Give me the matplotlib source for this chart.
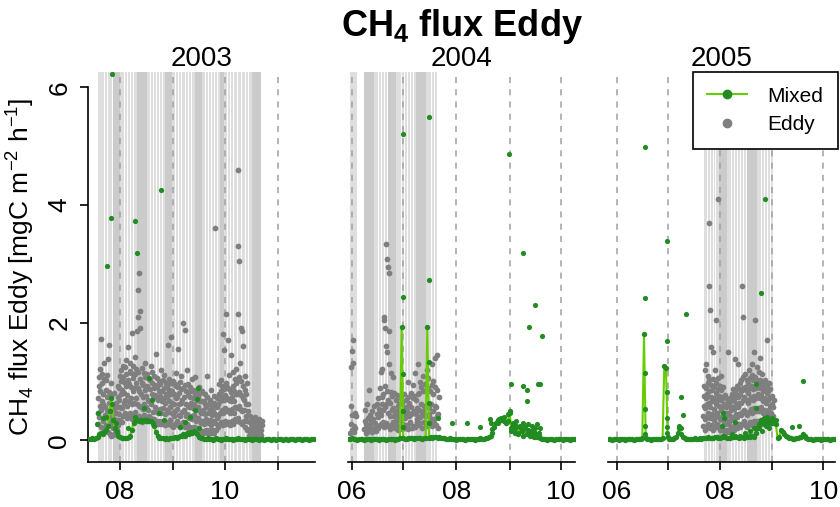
import numpy as np
import pandas as pd
import matplotlib
matplotlib.use('Agg')
import matplotlib.pyplot as plt
from matplotlib.lines import Line2D

plt.rcParams['font.family'] = ['Liberation Sans', 'DejaVu Sans']
plt.rcParams['mathtext.fontset'] = 'custom'
plt.rcParams['mathtext.rm'] = 'Liberation Sans'
plt.rcParams['mathtext.bf'] = 'Liberation Sans:bold'

years = [2003, 2004, 2005]
# x limits in day of year
xlims = [(194.4, 326.6), (150.7, 283.2), (146.7, 281.0)]
ylim = (-0.37, 6.26)

# gap-filled periods (grey shading), day of year
light03 = [(200.2, 295.1)]
dark03 = [(208.9, 213.0), (222.9, 228.7), (239.2, 243.3), (256.7, 260.8), (271.2, 273.6), (289.9, 295.1)]
stripes03 = [203.7, 205.4, 208.2, 215.3, 217.1, 218.8, 220.6, 230.5, 232.2, 234.0, 235.7, 237.5,
             245.0, 246.8, 248.5, 250.9, 252.6, 254.4, 262.5, 264.3, 266.0, 267.7, 269.5,
             275.3, 277.1, 278.8, 281.1, 283.5, 285.8, 287.5]
light04 = [(151.8, 155.9), (165.9, 202.6)]
dark04 = [(160.0, 165.9), (174.0, 178.7), (190.4, 196.2)]
stripes04 = [168.2, 169.9, 171.7, 173.4, 181.6, 183.4, 185.1, 186.9, 188.6, 199.1, 200.8]
light05 = [(203.3, 244.1)]
dark05 = [(212.5, 217.2), (229.2, 235.0)]
stripes05 = [205.1, 206.8, 208.6, 210.3, 219.6, 221.4, 223.1, 224.9, 226.6, 228.4,
             237.1, 238.9, 240.6, 242.4]

# Eddy flux, values per day (first day given)
eddy03_start = 200
eddy03_vals = [
    [0.28, 0.47, 0.71, 0.93, 1.08], [0.39, 0.58, 0.83, 1.21, 1.72], [0.22, 0.51, 0.66, 0.97, 1.12],
    [0.33, 0.62, 0.79, 1.04, 1.31], [0.19, 0.43, 0.57, 0.86, 1.02], [0.26, 0.49, 0.74, 1.11, 1.38],
    [0.14, 0.37, 0.63, 0.82, 1.62], [0.11, 0.29, 0.52, 0.76, 0.97], [0.07, 0.24, 0.41, 0.58],
    [0.09, 0.21, 0.36, 0.53, 0.81], [0.13, 0.31, 0.47, 0.64], [0.17, 0.34, 0.56, 0.73, 0.92],
    [0.26, 0.45, 0.68, 0.88, 1.09], [0.34, 0.57, 0.78, 1.01, 1.19], [0.31, 0.54, 0.86, 1.07, 1.27],
    [0.42, 0.63, 0.81, 0.99, 1.24], [0.46, 0.69, 0.92, 1.13, 1.36], [0.38, 0.59, 0.77, 1.03, 1.58],
    [0.41, 0.67, 0.96, 1.18, 1.31], [0.47, 0.72, 0.91, 1.14, 1.82], [0.36, 0.61, 0.84, 1.06, 1.26],
    [0.43, 0.64, 0.89, 1.12, 1.41], [0.48, 0.71, 0.97, 1.21, 1.85],
    [0.37, 0.62, 0.88, 1.16, 2.1, 2.55, 2.85], [0.42, 0.59, 0.83, 1.04, 1.9, 2.2],
    [0.36, 0.57, 0.79, 0.98, 1.22], [0.31, 0.53, 0.74, 0.94, 1.14], [0.43, 0.62, 0.85, 1.07, 1.31],
    [0.37, 0.56, 0.76, 0.93, 1.12], [0.32, 0.51, 0.69, 0.88, 1.04], [0.41, 0.66, 0.87, 1.03, 1.26],
    [0.38, 0.61, 0.79, 0.97, 1.16], [0.27, 0.48, 0.71, 0.89, 1.09], [0.36, 0.57, 0.77, 0.94, 1.46],
    [0.33, 0.52, 0.73, 0.91, 1.06], [0.27, 0.46, 0.68, 0.84, 1.01], [0.32, 0.53, 0.76, 0.96, 1.19],
    [0.28, 0.47, 0.66, 0.83, 1.02], [0.33, 0.54, 0.72, 0.89, 1.11], [0.26, 0.44, 0.63, 0.79, 0.97],
    [0.31, 0.52, 0.74, 0.93, 1.62], [0.27, 0.48, 0.67, 0.86, 1.04], [0.34, 0.56, 0.79, 0.98, 1.75],
    [0.26, 0.46, 0.64, 0.83, 1.01], [0.22, 0.41, 0.61, 0.78, 0.96], [0.28, 0.49, 0.71, 0.92, 1.14],
    [0.32, 0.53, 0.74, 0.91, 1.55], [0.26, 0.43, 0.62, 0.81, 0.99], [0.23, 0.42, 0.64, 0.87, 1.09],
    [0.27, 0.48, 0.69, 0.88, 2.0], [0.31, 0.52, 0.73, 0.94, 1.87], [0.22, 0.41, 0.62, 0.83, 1.19],
    [0.27, 0.44, 0.59, 0.77, 0.96], [0.18, 0.37, 0.56, 0.74, 0.91], [0.23, 0.42, 0.64, 0.83, 1.04],
    [0.17, 0.36, 0.54, 0.71, 0.86], [0.22, 0.43, 0.61, 0.79, 1.08], [0.16, 0.33, 0.52, 0.69, 0.86],
    [0.21, 0.38, 0.57, 0.74, 0.91], [0.17, 0.34, 0.49, 0.66, 0.81], [0.13, 0.29, 0.47, 0.66, 0.84],
    [0.16, 0.33, 0.51, 0.67], [0.12, 0.28, 0.44, 0.61, 0.79], [0.17, 0.36, 0.56, 0.73, 1.1],
    [0.13, 0.29, 0.47, 0.62], [0.18, 0.34, 0.52, 0.68, 0.86], [0.12, 0.26, 0.43, 0.57],
    [0.17, 0.33, 0.49, 0.63, 0.76], [0.13, 0.29, 0.44, 0.58], [0.18, 0.37, 0.56, 0.72],
    [0.22, 0.41, 0.61, 0.79, 0.96], [0.27, 0.46, 0.66, 0.84, 1.02], [0.31, 0.52, 0.73, 0.92, 1.8],
    [0.26, 0.47, 0.69, 0.87, 1.53], [0.32, 0.54, 0.77, 0.97, 2.15], [0.27, 0.49, 0.72, 0.91, 1.7],
    [0.31, 0.51, 0.69, 0.87, 1.11], [0.26, 0.46, 0.66, 0.82, 1.45], [0.33, 0.53, 0.74, 0.93, 1.16],
    [0.27, 0.47, 0.67, 0.84, 1.04], [0.36, 0.56, 0.78, 0.97, 1.21], [0.32, 0.54, 0.79, 1.02, 2.15],
    [0.37, 0.58, 0.82, 1.07, 1.31], [0.31, 0.53, 0.77, 1.01, 1.9, 1.85], [0.27, 0.49, 0.71, 0.92, 1.6],
    [0.32, 0.51, 0.69, 0.86, 1.09], [0.22, 0.41, 0.61, 0.79, 0.98], [0.17, 0.33, 0.49, 0.62],
    [0.08, 0.19, 0.31, 0.42], [0.11, 0.18, 0.27, 0.36], [0.07, 0.16, 0.24, 0.33],
    [0.09, 0.19, 0.29, 0.39], [0.06, 0.14, 0.23, 0.31], [0.09, 0.17, 0.27, 0.36],
    [0.07, 0.15, 0.22, 0.31], [0.09, 0.18, 0.26, 0.33],
]
eddy03_out_day = [281.5, 281.6, 282.2, 268.3]
eddy03_out_val = [4.6, 3.3, 3.05, 3.6]

eddy04_start = 152
eddy04_vals = [
    [0.12, 0.27, 0.58, 1.25, 1.52], [0.18, 0.43, 1.31, 1.71], [0.14, 0.24, 0.47], [0.21, 0.41],
    [], [], [], [],
    [0.19, 0.33, 0.52], [0.13, 0.28, 0.61], [0.22, 0.38, 0.85], [0.16, 0.24, 0.43],
    [0.21, 0.31, 0.49], [0.14, 0.36, 0.58], [0.19, 0.29], [0.16, 0.26, 0.44, 0.62],
    [0.21, 0.39, 0.71, 0.53], [0.24, 0.48, 0.88, 1.16], [0.27, 0.43, 0.74, 1.21, 0.61],
    [0.31, 0.52, 0.79, 2.1, 2.05], [0.23, 0.56, 0.92, 1.9, 1.6, 3.33],
    [0.29, 0.62, 0.84, 1.5, 3.08, 2.95], [0.24, 0.46, 0.69, 1.85, 2.85, 1.3],
    [0.19, 0.41, 0.63, 1.14, 0.82], [0.26, 0.51, 0.76, 1.07], [0.31, 0.54, 0.81, 0.42],
    [0.21, 0.44, 0.68, 0.33], [0.26, 0.49, 0.77, 0.58], [0.18, 0.39, 0.62, 0.47],
    [0.24, 0.46, 0.71, 0.34], [0.19, 0.38, 0.64, 0.52], [0.27, 0.51, 0.79, 0.37],
    [0.21, 0.43, 0.69, 0.56], [0.26, 0.49, 0.74, 0.99], [0.19, 0.41, 0.64, 0.31],
    [0.29, 0.56, 0.81, 0.44], [0.21, 0.46, 0.71, 0.94], [0.24, 0.49, 0.76, 1.15],
    [0.22, 0.44, 0.68, 0.36], [0.31, 0.54, 0.79, 1.3], [0.26, 0.51, 0.81, 0.99, 0.39],
    [0.29, 0.61, 0.91, 0.46], [0.21, 0.49, 0.84, 1.1], [0.31, 0.59, 0.96, 0.42],
    [0.24, 0.56, 0.86, 1.2], [0.29, 0.61, 0.89, 1.05, 0.44], [0.26, 0.54, 0.84, 0.38],
    [0.31, 0.62, 0.94, 1.3], [0.24, 0.49, 0.79, 1.01, 0.36], [0.29, 0.59, 0.91, 1.4],
    [0.26, 0.56, 0.86, 1.45, 0.42], [0.21, 0.44, 0.74],
]

eddy05_start = 203
eddy05_vals = [
    [0.24, 0.41, 0.58, 0.76, 0.93, 1.2], [0.18, 0.36, 0.54, 0.71, 0.88, 1.3],
    [0.22, 0.39, 0.61, 0.79, 0.97, 1.1], [0.27, 0.46, 0.64, 0.83, 1.02, 2.62, 2.22],
    [0.21, 0.38, 0.57, 0.74, 0.94, 1.59], [0.26, 0.44, 0.66, 0.86, 1.04, 1.5],
    [0.17, 0.34, 0.53, 0.72, 0.91, 1.2], [0.23, 0.42, 0.61, 0.81, 0.97, 2.04],
    [0.28, 0.47, 0.68, 0.87, 1.06], [0.22, 0.39, 0.58, 0.76, 0.92],
    [0.18, 0.36, 0.52, 0.69, 0.86, 1.1], [0.21, 0.38, 0.56, 0.73, 0.91],
    [0.17, 0.31, 0.47, 0.62, 0.77], [0.13, 0.27, 0.42, 0.57, 0.71],
    [0.18, 0.32, 0.46, 0.61, 0.68, 1.5], [0.14, 0.28, 0.43, 0.59, 0.72],
    [0.19, 0.35, 0.52, 0.66, 0.78], [0.22, 0.39, 0.56, 0.72, 0.87],
    [0.18, 0.36, 0.53, 0.69, 0.83, 1.38], [0.26, 0.44, 0.61, 0.77, 0.92],
    [0.21, 0.39, 0.57, 0.73, 0.88, 1.3], [0.27, 0.45, 0.63, 0.79, 0.97],
    [0.23, 0.43, 0.64, 0.84, 1.02, 2.62], [0.28, 0.48, 0.69, 0.88, 1.07, 2.1],
    [0.32, 0.52, 0.73, 0.91, 1.12], [0.26, 0.47, 0.68, 0.86, 1.03],
    [0.22, 0.43, 0.64, 0.81, 0.97, 1.2], [0.27, 0.48, 0.69, 0.89, 1.06],
    [0.31, 0.53, 0.74, 0.92, 1.11, 1.3], [0.26, 0.47, 0.69, 0.87, 1.02, 1.5],
    [0.32, 0.54, 0.76, 0.93, 1.08, 2.04], [0.27, 0.49, 0.71, 0.89, 1.03, 1.25],
    [0.33, 0.55, 0.78, 0.97, 1.16], [0.28, 0.49, 0.71, 0.88, 1.02, 1.4],
    [0.34, 0.56, 0.77, 0.94, 1.12], [0.27, 0.46, 0.66, 0.84, 0.98],
    [0.32, 0.51, 0.71, 0.88, 1.03], [0.28, 0.46, 0.64, 0.81, 0.94, 1.7],
    [0.33, 0.51, 0.68, 0.84, 0.97], [0.28, 0.43, 0.59, 0.74, 0.87],
    [0.33, 0.47, 0.62, 0.76], [0.29, 0.42, 0.56, 0.69],
]
eddy05_out_day = [206.2, 212.0]
eddy05_out_val = [3.69, 4.1]

# Mixed flux, daily line (first day given)
mixed03_start = 195
mixed03_vals = [
    0.02, 0.02, 0.03, 0.02, 0.04, 0.06, 0.10, 0.12, 0.10, 0.14,
    0.18, 0.25, 0.50, 0.72, 0.35, 0.20, 0.14, 0.08, 0.05, 0.03,
    0.03, 0.04, 0.03, 0.05, 0.08, 0.18, 0.30, 0.33, 0.34, 0.33,
    0.34, 0.33, 0.35, 0.33, 0.34, 0.32, 0.33, 0.30, 0.25, 0.14,
    0.07, 0.04, 0.03, 0.03, 0.02, 0.03, 0.02, 0.03, 0.04, 0.03,
    0.05, 0.04, 0.06, 0.08, 0.07, 0.10, 0.08, 0.12, 0.10, 0.14,
    0.12, 0.16, 0.14, 0.10, 0.06, 0.04, 0.03, 0.02, 0.02, 0.03,
    0.02, 0.02, 0.01, 0.02, 0.03, 0.02, 0.02, 0.01, 0.02, 0.02,
    0.03, 0.02, 0.02, 0.02, 0.01, 0.02, 0.02, 0.03, 0.02, 0.02,
    0.02, 0.01, 0.02, 0.02, 0.02, 0.01, 0.02, 0.02, 0.02, 0.01,
    0.02, 0.02, 0.01, 0.02, 0.02, 0.02, 0.01, 0.02, 0.02, 0.01,
    0.02, 0.02, 0.02, 0.01, 0.02, 0.02, 0.01, 0.02, 0.02, 0.02,
    0.01, 0.02, 0.02, 0.02, 0.01, 0.02, 0.02, 0.02, 0.01, 0.02,
    0.02, 0.02,
]
mixed04_start = 151
mixed04_vals = [
    0.02, 0.02, 0.03, 0.02, 0.02, 0.01, 0.02, 0.02, 0.02, 0.01,
    0.02, 0.02, 0.02, 0.01, 0.02, 0.02, 0.02, 0.02, 0.01, 0.02,
    0.02, 0.02, 0.01, 0.02, 0.02, 0.02, 0.02, 0.01, 0.02, 0.02,
    0.03, 1.92, 0.03, 0.02, 0.02, 0.03, 0.04, 0.03, 0.02, 0.03,
    0.04, 0.03, 0.03, 0.02, 0.03, 0.04, 1.92, 0.04, 0.05, 0.04,
    0.06, 0.05, 0.04, 0.05, 0.04, 0.03, 0.03, 0.02, 0.02, 0.03,
    0.02, 0.02, 0.02, 0.01, 0.02, 0.02, 0.02, 0.02, 0.01, 0.02,
    0.02, 0.02, 0.02, 0.02, 0.01, 0.02, 0.02, 0.03, 0.02, 0.02,
    0.03, 0.03, 0.05, 0.08, 0.12, 0.22, 0.30, 0.35, 0.36, 0.34,
    0.35, 0.33, 0.30, 0.32, 0.50, 0.20, 0.28, 0.12, 0.25, 0.10,
    0.22, 0.15, 0.08, 0.20, 0.10, 0.18, 0.08, 0.15, 0.06, 0.12,
    0.05, 0.08, 0.03, 0.02, 0.02, 0.02, 0.01, 0.02, 0.02, 0.02,
    0.01, 0.02, 0.02, 0.02, 0.02, 0.01, 0.02, 0.02, 0.02, 0.01,
    0.02, 0.02, 0.02,
]
mixed05_start = 147
mixed05_vals = [
    0.02, 0.02, 0.01, 0.02, 0.02, 0.02, 0.01, 0.02, 0.02, 0.02,
    0.01, 0.02, 0.02, 0.02, 0.02, 0.01, 0.02, 0.02, 0.02, 0.02,
    0.03, 1.80, 0.03, 0.02, 0.02, 0.01, 0.02, 0.02, 0.02, 0.02,
    0.02, 0.02, 0.03, 1.26, 1.22, 0.05, 0.02, 0.02, 0.02, 0.03,
    0.05, 0.12, 0.20, 0.10, 0.05, 0.03, 0.02, 0.02, 0.02, 0.02,
    0.02, 0.03, 0.02, 0.02, 0.03, 0.02, 0.03, 0.04, 0.03, 0.05,
    0.04, 0.03, 0.04, 0.06, 0.05, 0.04, 0.03, 0.05, 0.08, 0.05,
    0.04, 0.03, 0.04, 0.05, 0.06, 0.08, 0.05, 0.04, 0.06, 0.05,
    0.04, 0.06, 0.05, 0.08, 0.06, 0.07, 0.05, 0.12, 0.20, 0.28,
    0.30, 0.32, 0.30, 0.31, 0.30, 0.32, 0.30, 0.31, 0.30, 0.28,
    0.03, 0.05, 0.17, 0.14, 0.10, 0.08, 0.06, 0.04, 0.03, 0.02,
    0.02, 0.03, 0.04, 0.05, 0.06, 0.10, 0.07, 0.03, 0.02, 0.02,
    0.02, 0.01, 0.02, 0.02, 0.02, 0.02, 0.01, 0.02, 0.02, 0.02,
    0.02, 0.01, 0.02, 0.02, 0.02,
]

# Mixed flux, scattered half-hourly points
mixpts03_day = [208.3, 207.7, 205.4, 221.7, 222.9, 236.9, 229.9, 199.8, 200.4, 203.3, 205.0, 208.5,
                210.5, 227.0, 231.6, 238.6, 236.0, 248.0, 250.9, 253.8, 256.7, 257.8, 258.2, 259.0,
                221.7, 217.5]
mixpts03_val = [6.22, 3.77, 2.96, 3.72, 3.18, 4.25, 1.05, 0.28, 0.46, 0.37, 0.40, 0.62,
                0.30, 0.54, 0.68, 0.34, 0.46, 0.23, 0.31, 0.40, 0.51, 0.70, 0.88, 0.20,
                0.40, 0.20]
mixpts04_day = [182.6, 182.6, 182.6, 182.6, 182.6, 197.7, 197.7, 197.7, 197.7, 197.7,
                203.2, 211.4, 220.1, 227.6, 233.6, 234.2, 234.7, 244.7, 245.8, 245.5,
                252.8, 259.8, 256.3, 264.0, 252.8, 255.0, 261.5, 263.0, 255.0,
                238.0, 240.0, 242.0, 244.0, 246.0, 247.0, 248.0, 249.0, 250.0, 251.0,
                252.0, 253.0, 254.0, 256.0, 257.0, 258.0, 259.0, 260.0, 261.0, 262.0, 263.0]
mixpts04_val = [5.20, 2.43, 1.12, 0.49, 0.22, 5.49, 2.72, 1.33, 0.64, 0.30,
                0.37, 0.30, 0.29, 0.22, 0.36, 0.30, 0.19, 4.86, 0.96, 0.47,
                3.18, 2.30, 1.92, 1.78, 0.92, 0.86, 0.95, 0.95, 0.66,
                0.30, 0.38, 0.40, 0.45, 0.15, 0.30, 0.20, 0.33, 0.12, 0.25,
                0.18, 0.30, 0.22, 0.27, 0.15, 0.25, 0.10, 0.20, 0.28, 0.12, 0.20]
mixpts05_day = [168.3, 168.3, 168.3, 168.3, 168.3, 168.3, 181.7, 181.7, 181.7, 181.7, 181.7, 181.7,
                192.8, 189.9, 191.0, 189.0, 190.0, 239.4, 237.1, 262.2, 234.2, 234.2,
                215.0, 215.5, 214.0, 222.0, 255.8, 259.9,
                236.0, 237.0, 238.0, 239.0, 240.0, 241.0, 242.0, 243.0, 244.0, 245.0, 246.0,
                220.0, 225.0, 228.0, 231.0, 233.0]
mixpts05_val = [4.98, 2.41, 1.14, 0.53, 0.24, 0.10, 3.38, 1.68, 0.82, 0.37, 0.23, 0.12,
                2.14, 0.73, 0.43, 0.25, 0.20, 4.10, 2.50, 1.00, 0.96, 0.54,
                0.46, 0.37, 0.25, 0.31, 0.23, 0.25,
                0.20, 0.35, 0.15, 0.38, 0.25, 0.40, 0.20, 0.35, 0.38, 0.30, 0.35,
                0.10, 0.08, 0.12, 0.15, 0.20]

month_labels = {6: '06', 8: '08', 10: '10'}

c_grey = '#7f7f7f'
c_line = '#66cd00'
c_pts = '#228b22'


def daily_points(start, vals):
    xs, ys = [], []
    for i, day in enumerate(vals):
        n = len(day)
        for k, v in enumerate(day):
            xs.append(start + i + k / max(n, 1))
            ys.append(v)
    return xs, ys


panels = [
    dict(light=light03, dark=dark03, stripes=stripes03,
         eddy=daily_points(eddy03_start, eddy03_vals), eddy_out=(eddy03_out_day, eddy03_out_val),
         mixed=(mixed03_start, mixed03_vals), mixpts=(mixpts03_day, mixpts03_val)),
    dict(light=light04, dark=dark04, stripes=stripes04,
         eddy=daily_points(eddy04_start, eddy04_vals), eddy_out=([], []),
         mixed=(mixed04_start, mixed04_vals), mixpts=(mixpts04_day, mixpts04_val)),
    dict(light=light05, dark=dark05, stripes=stripes05,
         eddy=daily_points(eddy05_start, eddy05_vals), eddy_out=(eddy05_out_day, eddy05_out_val),
         mixed=(mixed05_start, mixed05_vals), mixpts=(mixpts05_day, mixpts05_val)),
]

fig = plt.figure(figsize=(8.4, 5.07), dpi=100)
lefts = [88, 348, 608]
W, H = 840, 507
ax_bottom = 1 - 462 / H
ax_height = (462 - 72) / H
ax_width = 227 / W

for i, (year, p) in enumerate(zip(years, panels)):
    ax = fig.add_axes([lefts[i] / W, ax_bottom, ax_width, ax_height])
    ax.set_xlim(xlims[i])
    ax.set_ylim(ylim)

    for a, b in p['light']:
        ax.axvspan(a, b, color='#dedede', lw=0, zorder=0)
    for a, b in p['dark']:
        ax.axvspan(a, b, color='#cbcbcb', lw=0, zorder=0.1)
    for s in p['stripes']:
        ax.axvline(s, color='white', lw=0.7, zorder=0.2)

    # month starts
    months = list(range(5, 13))
    starts = [pd.Timestamp(year, m, 1).dayofyear for m in months]
    ticks, labels = [], []
    for m, d in zip(months, starts):
        if xlims[i][0] <= d <= xlims[i][1]:
            ticks.append(d)
            labels.append(month_labels.get(m, ''))
            ax.axvline(d, color='#a0a0a0', lw=1.1, ls=(0, (4, 4)), zorder=1)

    ex, ey = p['eddy']
    ax.scatter(ex, ey, s=17, color=c_grey, lw=0, zorder=2)
    ax.scatter(p['eddy_out'][0], p['eddy_out'][1], s=17, color=c_grey, lw=0, zorder=2)

    ms, mv = p['mixed']
    mdays = ms + np.arange(len(mv))
    ax.plot(mdays, mv, color=c_line, lw=1.5, zorder=3)
    ax.scatter(mdays, mv, s=15, color=c_pts, lw=0, zorder=4)
    ax.scatter(p['mixpts'][0], p['mixpts'][1], s=14, color=c_pts, lw=0, zorder=4)

    for sp in ['top', 'right']:
        ax.spines[sp].set_visible(False)
    ax.spines['bottom'].set_linewidth(1.2)
    ax.set_xticks(ticks)
    ax.set_xticklabels(labels, fontsize=19)
    ax.tick_params(axis='x', length=6, width=1.2, pad=7)

    if i == 0:
        ax.spines['left'].set_linewidth(1.2)
        ax.spines['left'].set_bounds(ylim[0], 6)
        ax.set_yticks([0, 2, 4, 6])
        ax.set_yticklabels(['0', '2', '4', '6'], fontsize=19, rotation=90, va='center')
        ax.tick_params(axis='y', length=6, width=1.2, pad=6)
        ax.set_ylabel(r'CH$_4$ flux Eddy [mgC m$^{-2}$ h$^{-1}$]', fontsize=19, labelpad=8)
    else:
        ax.spines['left'].set_visible(False)
        ax.set_yticks([])

    ax.set_title(str(year), fontsize=20, pad=3)

fig.text(462 / W, 1 - 27 / H, r'$\mathbf{CH_4}$' + ' flux Eddy', fontsize=26,
         fontweight='bold', ha='center', va='center')

handles = [Line2D([], [], color=c_line, lw=1.5, marker='o', ms=6, mfc=c_pts, mec=c_pts),
           Line2D([], [], color=c_grey, lw=0, marker='o', ms=6)]
leg = fig.legend(handles, ['Mixed', 'Eddy'], loc='upper right',
                 bbox_to_anchor=(838 / W, 1 - 72 / H), fontsize=15, frameon=True,
                 fancybox=False, edgecolor='black', framealpha=1, borderpad=0.7,
                 handlelength=1.9, handletextpad=1.0, labelspacing=0.45, borderaxespad=0)
leg.get_frame().set_linewidth(1.2)

fig.savefig('out.png', dpi=100)
